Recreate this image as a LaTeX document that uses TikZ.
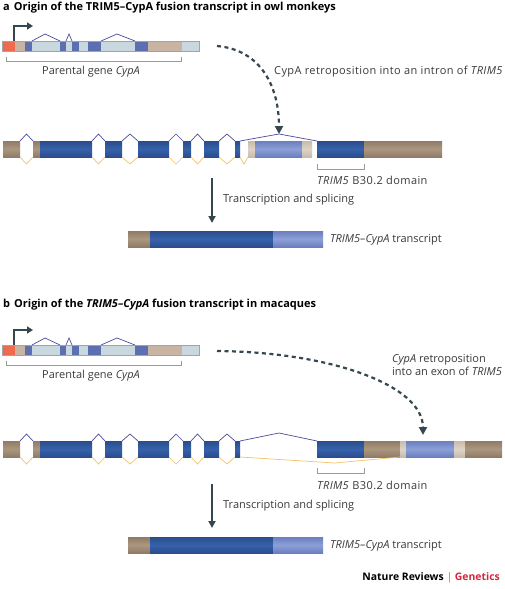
\documentclass[tikz,border=0pt]{standalone}
\usepackage{fontspec}
\setmainfont{Open Sans}
\usetikzlibrary{arrows.meta}
\definecolor{exblueT}{HTML}{2A4C8E}
\definecolor{exblueM}{HTML}{3662AA}
\definecolor{extanT}{HTML}{8F7B68}
\definecolor{extanM}{HTML}{AC967F}
\definecolor{cyT}{HTML}{6A7FC0}
\definecolor{cyM}{HTML}{8D9FD8}
\definecolor{ltanT}{HTML}{C8BBAA}
\definecolor{ltanM}{HTML}{DDD3C6}
\definecolor{parlight}{HTML}{C9D7DF}
\definecolor{parblue}{HTML}{5C70B0}
\definecolor{parred}{HTML}{EE6B50}
\definecolor{partan}{HTML}{C9B3A3}
\definecolor{parline}{HTML}{9AA6AE}
\definecolor{intronp}{HTML}{4B4B9B}
\definecolor{introny}{HTML}{F2C46A}
\definecolor{arrowc}{HTML}{36474F}
\definecolor{labelc}{HTML}{3A3A3A}
\definecolor{brack}{HTML}{9A9A9A}
\definecolor{natred}{HTML}{D7263D}
\tikzset{
  blueex/.style={top color=exblueT, bottom color=exblueT, middle color=exblueM},
  tanex/.style={top color=extanT, bottom color=extanT, middle color=extanM},
  cyex/.style={top color=cyT, bottom color=cyT, middle color=cyM},
  ltanex/.style={top color=ltanT, bottom color=ltanT, middle color=ltanM},
  purp/.style={draw=intronp, line width=0.7pt},
  yell/.style={draw=introny, line width=0.7pt},
  lab/.style={inner sep=0pt, anchor=west, text=labelc, font=\fontsize{11}{13}\selectfont},
  biglab/.style={lab, font=\fontsize{11}{13}\selectfont\addfontfeature{LetterSpace=3.6}},
  ttl/.style={inner sep=0pt, anchor=west, text=black, font=\fontsize{11}{12}\selectfont\bfseries},
  brk/.style={draw=brack, line width=0.6pt},
  bigarrow/.style={draw=arrowc, line width=1.8pt, -{Triangle[length=7pt,width=7pt]}},
  dasharrow/.style={draw=arrowc, line width=2.2pt, dash pattern=on 4pt off 3.5pt, -{Triangle[length=8pt,width=8pt]}},
}
\newcommand\myexon[4]{\fill[#4] (#1,#3) rectangle (#2,#3+16);}
\newcommand\myintron[3]{%
  \draw[purp] (#1,#3) -- ({(#1+#2)/2},#3-7) -- (#2,#3);
  \draw[yell] (#1,#3+16) -- ({(#1+#2)/2},#3+23) -- (#2,#3+16);}
\newcommand\myparent[1]{%
  \fill[parlight] (2,#1) rectangle (199,#1+10);
  \fill[parred] (2,#1) rectangle (15,#1+10);
  \fill[partan] (15,#1) rectangle (25,#1+10);
  \foreach \a/\b in {25/32,60/66,72/79,88/101,135/148}{\fill[parblue] (\a,#1) rectangle (\b,#1+10);}
  \fill[partan] (148,#1) rectangle (182,#1+10);
  \draw[parline, line width=0.5pt] (2,#1) rectangle (199,#1+10);
  \draw[purp] (32,#1) -- (45,#1-7) -- (60,#1);
  \draw[purp] (66,#1) -- (69,#1-7) -- (72,#1);
  \draw[purp] (101,#1) -- (117,#1-7) -- (135,#1);
  \draw[brk] (6,#1+16) -- (6,#1+20) -- (181,#1+20) -- (181,#1+16);
}
\newcommand\mytrimstart[1]{%
  \myexon{3}{20}{#1}{tanex}
  \myexon{33}{40}{#1}{tanex}
  \myexon{40}{92}{#1}{blueex}
  \myexon{105}{122}{#1}{blueex}
  \myexon{138}{169}{#1}{blueex}
  \myexon{183}{191}{#1}{blueex}
  \myexon{204}{219}{#1}{blueex}
  \myexon{235}{240}{#1}{blueex}
  \foreach \a/\b in {20/33,92/105,122/138,169/183,191/204,219/235}{\myintron{\a}{\b}{#1}}
}
\newcommand\mytranscript[1]{%
  \myexon{128}{150}{#1}{tanex}
  \myexon{150}{273}{#1}{blueex}
  \myexon{273}{323}{#1}{cyex}
}
\begin{document}
\begin{tikzpicture}[x=1pt,y=-1pt]
\useasboundingbox[fill=white] (0,0) rectangle (505,589);

% ---------------- panel a ----------------
\node[ttl] (ta) at (3,8) {a\hspace{4pt}Origin of the TRIM5–CypA fusion transcript in owl monkeys};
\myparent{41}
\coordinate (pa0) at (14,41);
\coordinate (pa1) at (14,26);
\coordinate (pa2) at (33,26);
\draw[draw=arrowc, line width=1.8pt, -{Triangle[length=6pt,width=7pt]}] (pa0) -- (pa1) -- (pa2);
\node[lab] (pga) at (42,72) {Parental gene \textit{CypA}};

\coordinate (da0) at (217,46);
\coordinate (da1) at (279,134);
\draw[dasharrow] (da0) .. controls (262,50) and (279,88) .. (da1);
\node[biglab] (rla) at (274,72) {CypA retroposition into an intron of \textit{TRIM5}};

\mytrimstart{141}
\myexon{248}{255}{141}{ltanex}
\myexon{255}{302}{141}{cyex}
\myexon{302}{312}{141}{ltanex}
\myexon{317}{364}{141}{blueex}
\myexon{364}{442}{141}{tanex}
\draw[purp] (240,141) -- (279,134) -- (317,141);
\draw[yell] (240,157) -- (244,164) -- (248,157);
\draw[brk] (317,164) -- (317,169) -- (364,169) -- (364,164);
\node[biglab] (ba) at (317,180) {\textit{TRIM5} B30.2 domain};

\coordinate (va0) at (212,178);
\coordinate (va1) at (212,223);
\draw[bigarrow] (va0) -- (va1);
\node[lab] (tsa) at (223,200) {Transcription and splicing};

\mytranscript{231}
\node[lab] (tra) at (330,240) {\textit{TRIM5–CypA} transcript};

% ---------------- panel b ----------------
\node[ttl] (tb) at (3,305) {b\hspace{4pt}Origin of the \textit{TRIM5–CypA} fusion transcript in macaques};
\myparent{345}
\coordinate (pb0) at (14,345);
\coordinate (pb1) at (14,330);
\coordinate (pb2) at (33,330);
\draw[draw=arrowc, line width=1.8pt, -{Triangle[length=6pt,width=7pt]}] (pb0) -- (pb1) -- (pb2);
\node[lab] (pgb) at (42,376) {Parental gene \textit{CypA}};

\coordinate (db0) at (217,351);
\coordinate (db1) at (423,435);
\draw[dasharrow] (db0) .. controls (330,352) and (423,385) .. (db1);
\node[lab, align=left, anchor=north west] (rlb) at (392,354) {\textit{CypA} retroposition\\into an exon of \textit{TRIM5}};

\mytrimstart{441}
\myexon{317}{364}{441}{blueex}
\myexon{364}{400}{441}{tanex}
\myexon{400}{406}{441}{ltanex}
\myexon{406}{454}{441}{cyex}
\myexon{454}{465}{441}{ltanex}
\myexon{465}{502}{441}{tanex}
\draw[purp] (240,441) -- (279,433) -- (317,441);
\draw[yell] (240,457) -- (335,463) -- (400,457);
\draw[brk] (317,468) -- (317,473) -- (364,473) -- (364,468);
\node[biglab] (bb) at (317,485) {\textit{TRIM5} B30.2 domain};

\coordinate (vb0) at (212,484);
\coordinate (vb1) at (212,528);
\draw[bigarrow] (vb0) -- (vb1);
\node[lab] (tsb) at (223,506) {Transcription and splicing};

\mytranscript{537}
\node[lab] (trb) at (330,546) {\textit{TRIM5–CypA} transcript};

\node[inner sep=0pt, anchor=east, font=\fontsize{10.4}{12}\selectfont\bfseries] (foot) at (500,578) {Nature Reviews \textcolor{gray}{\mdseries|} \textcolor{natred}{Genetics}};
\end{tikzpicture}
\end{document}
